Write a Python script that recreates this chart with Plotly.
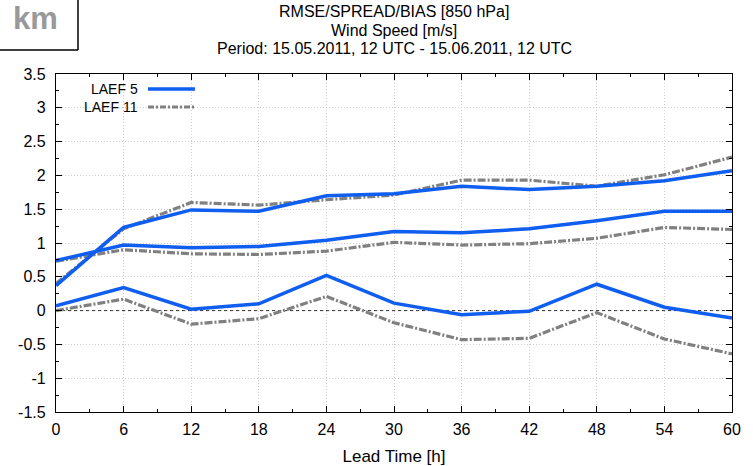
import plotly.graph_objects as go

lead_time = [0, 6, 12, 18, 24, 30, 36, 42, 48, 54, 60]

rmse_laef5 = [0.37, 1.23, 1.49, 1.47, 1.70, 1.73, 1.84, 1.79, 1.84, 1.92, 2.07]
rmse_laef11 = [0.40, 1.21, 1.60, 1.56, 1.64, 1.71, 1.93, 1.93, 1.84, 2.01, 2.27]
spread_laef5 = [0.74, 0.97, 0.93, 0.95, 1.04, 1.17, 1.15, 1.21, 1.33, 1.47, 1.47]
spread_laef11 = [0.73, 0.90, 0.84, 0.83, 0.88, 1.01, 0.97, 0.99, 1.07, 1.23, 1.20]
bias_laef5 = [0.07, 0.34, 0.02, 0.10, 0.52, 0.11, -0.06, -0.01, 0.39, 0.05, -0.11]
bias_laef11 = [0.00, 0.17, -0.20, -0.12, 0.21, -0.18, -0.43, -0.41, -0.03, -0.42, -0.64]

y_ticks = [3.5, 3, 2.5, 2, 1.5, 1, 0.5, 0, -0.5, -1, -1.5]
y_labels = ["3.5", "3", "2.5", "2", "1.5", "1", "0.5", "0", "-0.5", "-1", "-1.5"]
x_ticks = [0, 6, 12, 18, 24, 30, 36, 42, 48, 54, 60]

BLUE = "#0f5ef0"
GRAY = "#808080"
DASHDOT = "8px,2px,2px,2px"
FONT = "Liberation Sans"

PL, PR, PT, PB = 56, 21, 74, 54
PW = 753 - PL - PR
PH = 466 - PT - PB

fig = go.Figure()

# zero reference line
fig.add_trace(go.Scatter(x=[lead_time[0], lead_time[-1]], y=[0, 0], mode="lines",
                         line=dict(color="black", width=0.8, dash="3px,3px"),
                         showlegend=False, hoverinfo="skip"))

for ys in (rmse_laef11, spread_laef11, bias_laef11):
    fig.add_trace(go.Scatter(x=lead_time, y=ys, mode="lines",
                             line=dict(color=GRAY, width=3.2, dash=DASHDOT),
                             showlegend=False))
for ys in (rmse_laef5, spread_laef5, bias_laef5):
    fig.add_trace(go.Scatter(x=lead_time, y=ys, mode="lines",
                             line=dict(color=BLUE, width=3.5),
                             showlegend=False))

axis_common = dict(
    showline=True, linecolor="black", linewidth=1.2, mirror="allticks",
    ticks="inside", ticklen=6, tickcolor="black", tickwidth=1,
    showgrid=True, gridcolor="#cfcfcf", griddash="1px,2px", gridwidth=1,
    zeroline=False, automargin=False,
    tickfont=dict(family=FONT, size=16, color="black"),
)

fig.update_xaxes(range=[0, 60], tickvals=x_ticks, ticklabelstandoff=3,
                 minor=dict(dtick=3, ticks="inside", ticklen=3, tickcolor="black", showgrid=False),
                 title=dict(text="Lead Time [h]", font=dict(family=FONT, size=17, color="black"), standoff=12),
                 **axis_common)
fig.update_yaxes(range=[-1.5, 3.5], tickvals=y_ticks, ticktext=y_labels, ticklabelstandoff=6,
                 minor=dict(dtick=0.25, ticks="inside", ticklen=3, tickcolor="black", showgrid=False),
                 **axis_common)

# title lines
title_lines = ["RMSE/SPREAD/BIAS [850 hPa]", "Wind Speed [m/s]",
               "Period: 15.05.2011, 12 UTC - 15.06.2011, 12 UTC"]
for i, t in enumerate(title_lines):
    fig.add_annotation(text=t, xref="paper", yref="paper", x=0.5, y=1,
                       yshift=(PT - 11.5) - 18.5 * i, showarrow=False, xanchor="center", yanchor="middle",
                       font=dict(family=FONT, size=16, color="black"))

# legend (gnuplot style: text left of sample)
legend_items = [("LAEF 5", BLUE, "solid", 3.5), ("LAEF 11", GRAY, "6px,2px,2px,2px", 3.2)]
for i, (name, col, dash, w) in enumerate(legend_items):
    ypix = 89 + 18 * i - PT
    yp = 1 - ypix / PH
    fig.add_annotation(text=name, xref="paper", yref="paper", x=(140 - PL) / PW, y=yp,
                       showarrow=False, xanchor="right", yanchor="middle",
                       font=dict(family=FONT, size=14, color="black"))
    fig.add_shape(type="line", xref="paper", yref="paper",
                  x0=(148 - PL) / PW, x1=(195 - PL) / PW, y0=yp, y1=yp,
                  line=dict(color=col, width=w, dash=dash))

# "km" box in top-left
box_r, box_b = 78, 50
fig.add_shape(type="line", xref="paper", yref="paper",
              x0=-PL / PW, x1=(box_r - PL) / PW, y0=1 + (PT - box_b) / PH, y1=1 + (PT - box_b) / PH,
              line=dict(color="black", width=1.5))
fig.add_shape(type="line", xref="paper", yref="paper",
              x0=(box_r - PL) / PW, x1=(box_r - PL) / PW, y0=1 + (PT - box_b) / PH, y1=1 + PT / PH,
              line=dict(color="black", width=1.5))
fig.add_annotation(text="<b>km</b>", xref="paper", yref="paper", x=(35 - PL) / PW, y=1 + (PT - 18) / PH,
                   showarrow=False, xanchor="center", yanchor="middle",
                   font=dict(family=FONT, size=31, color="#999999"))

fig.update_layout(
    width=753, height=466,
    margin=dict(l=PL, r=PR, t=PT, b=PB, autoexpand=False),
    plot_bgcolor="white", paper_bgcolor="white",
    showlegend=False,
)

fig.write_html("out.html", config={"displayModeBar": False},
               post_script="document.body.style.margin='0';document.body.style.padding='0';")
